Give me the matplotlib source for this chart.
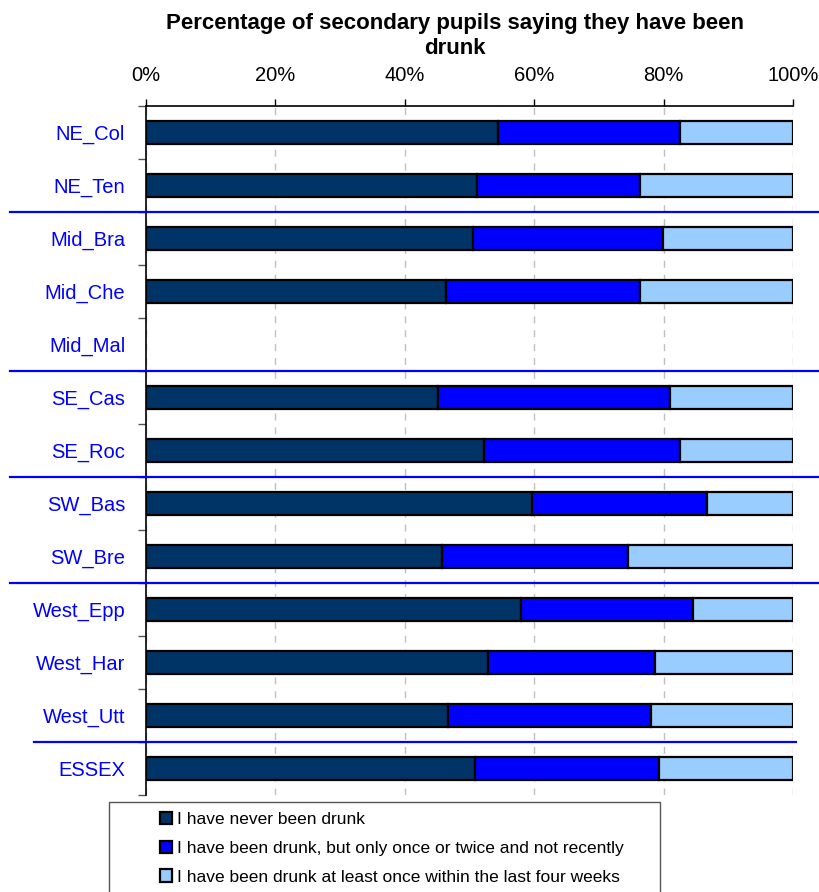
import matplotlib
matplotlib.use("Agg")
from matplotlib import pyplot as plt
from matplotlib import font_manager
from matplotlib.patches import Rectangle
from matplotlib.transforms import blended_transform_factory

schools = ["NE_Col", "NE_Ten", "Mid_Bra", "Mid_Che", "Mid_Mal", "SE_Cas", "SE_Roc",
           "SW_Bas", "SW_Bre", "West_Epp", "West_Har", "West_Utt", "ESSEX"]
never = [54.4, 51.2, 50.5, 46.4, 0.0, 45.2, 52.3, 59.7, 45.8, 58.0, 52.9, 46.7, 50.8]
once_twice = [28.1, 25.2, 29.4, 30.0, 0.0, 35.8, 30.2, 27.0, 28.7, 26.6, 25.8, 31.4, 28.5]
recent = [17.5, 23.6, 20.1, 23.6, 0.0, 19.0, 17.5, 13.3, 25.5, 15.4, 21.3, 21.9, 20.7]
series_labels = ["I have never been drunk",
                 "I have been drunk, but only once or twice and not recently",
                 "I have been drunk at least once within the last four weeks"]
x_ticks = [0, 20, 40, 60, 80, 100]
x_tick_labels = ["0%", "20%", "40%", "60%", "80%", "100%"]
# region separators sit after these rows
separators = [1.5, 4.5, 6.5, 8.5, 11.5]

COLORS = ["#003366", "#0000FF", "#99CCFF"]

installed = {f.name for f in font_manager.fontManager.ttflist}
NARROW = "Liberation Sans Narrow" if "Liberation Sans Narrow" in installed else "Liberation Sans"
plt.rcParams["font.family"] = ["Liberation Sans", "DejaVu Sans"]

fig = plt.figure(figsize=(8.2, 8.92), dpi=100)
ax = fig.add_axes([146 / 820, 1 - 795 / 892, 647 / 820, 689 / 892])

ypos = list(range(len(schools)))
left = [0.0] * len(schools)
for vals, color, label in zip([never, once_twice, recent], COLORS, series_labels):
    bars = ax.barh(ypos, vals, left=left, height=0.42, color=color, edgecolor="black",
                   linewidth=1.6, label=label, zorder=3)
    for bar, v in zip(bars, vals):
        if v == 0:
            bar.set_visible(False)
    left = [a + b for a, b in zip(left, vals)]

ax.set_xlim(0, 100)
ax.set_ylim(len(schools) - 0.5, -0.5)

ax.xaxis.tick_top()
ax.set_xticks(x_ticks)
ax.set_xticklabels(x_tick_labels, fontsize=14.5, fontfamily=NARROW)
ax.tick_params(axis="x", direction="out", length=5, width=1, color="black", pad=10)
ax.grid(axis="x", color="#c0c0c0", linestyle=(0, (5, 5)), linewidth=1, zorder=0)

ax.set_yticks(ypos)
ax.set_yticklabels(schools, fontsize=14.5, color="#0000FF")
ax.tick_params(axis="y", which="major", length=0, pad=15)
ax.set_yticks([i - 0.5 for i in range(len(schools) + 1)], minor=True)
ax.tick_params(axis="y", which="minor", direction="out", length=6, width=1, color="#555555")

for side in ("right", "bottom"):
    ax.spines[side].set_visible(False)
ax.spines["top"].set_linewidth(1.2)
ax.spines["left"].set_linewidth(1.2)

trans = blended_transform_factory(ax.transAxes, ax.transData)
for y in separators:
    if y == separators[-1]:
        x0, x1 = -0.173, 1.005
    else:
        x0, x1 = -0.21, 1.05
    ax.plot([x0, x1], [y, y], color="#0000FF", linewidth=1.6, transform=trans,
            clip_on=False, zorder=4)

fig.text(455 / 820, 1 - 13 / 892,
         "Percentage of secondary pupils saying they have been\ndrunk",
         ha="center", va="top", fontsize=16, fontweight="bold", linespacing=1.25)

# legend box runs off the bottom edge of the picture
fig.patches.append(Rectangle((109 / 820, -0.05), 551 / 820, 0.05 + (892 - 802) / 892,
                             transform=fig.transFigure, facecolor="white",
                             edgecolor="#555555", linewidth=1, zorder=1))
handles, labels = ax.get_legend_handles_labels()
leg = fig.legend(handles, labels, loc="upper left",
                 bbox_to_anchor=(160 / 820, 1 - 812 / 892), frameon=False,
                 prop={"family": NARROW, "size": 12.5}, handlelength=0.7,
                 handleheight=0.7, handletextpad=0.3, labelspacing=0.78,
                 borderpad=0, borderaxespad=0)
leg.set_zorder(2)

fig.savefig("out.png", dpi=100)
